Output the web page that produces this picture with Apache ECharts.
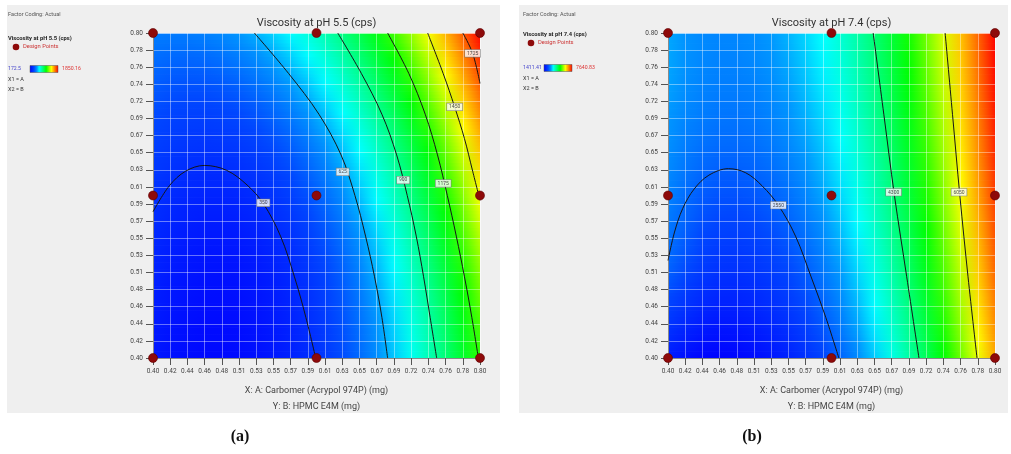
<!DOCTYPE html>
<html><head><meta charset="utf-8">
<script src="https://cdn.jsdelivr.net/npm/echarts@6/dist/echarts.min.js"></script>
<style>html,body{margin:0;padding:0;background:#fff}#c{width:1011px;height:454px}</style>
</head><body><div id="c"></div><script>
// ---------- data ----------
const xTickLabels = ['0.40','0.42','0.44','0.46','0.48','0.51','0.53','0.55','0.57','0.59','0.61','0.63','0.65','0.67','0.69','0.72','0.74','0.76','0.78','0.80'];
const yTickLabels = ['0.40','0.42','0.44','0.46','0.48','0.51','0.53','0.55','0.57','0.59','0.61','0.63','0.65','0.67','0.69','0.72','0.74','0.76','0.78','0.80'];
const titles = ['Viscosity at pH 5.5 (cps)', 'Viscosity at pH 7.4 (cps)'];
const rangeA = [172.5, 1850.16];
const rangeB = [1411.41, 7640.83];
const rangeTextA = ['172.5', '1850.16'];
const rangeTextB = ['1411.41', '7640.83'];
const designPoints = [[0.4,0.8],[0.6,0.8],[0.8,0.8],[0.4,0.6],[0.6,0.6],[0.8,0.6],[0.4,0.4],[0.6,0.4],[0.8,0.4]];

// response values at grid nodes, rows from Y=0.40 (bottom) to Y=0.80 (top), columns X=0.40..0.80
const gridA = [
[253,229,213,205,205,214,230,255,288,329,378,435,501,574,656,746,844,950,1065,1187],
[259,233,216,207,207,215,231,256,289,331,380,439,505,580,664,756,856,965,1082,1207],
[265,239,221,211,210,218,234,259,293,335,385,445,513,589,674,768,870,981,1101,1229],
[273,246,227,217,216,223,239,265,299,341,393,453,522,600,687,782,886,1000,1121,1252],
[282,254,235,224,223,231,247,273,307,350,403,464,534,614,702,799,905,1020,1144,1277],
[292,263,244,234,232,240,257,283,318,362,415,478,549,630,719,818,926,1043,1168,1304],
[303,274,255,245,244,252,269,296,331,376,431,494,566,648,739,839,949,1067,1195,1332],
[315,287,267,257,257,265,283,311,347,393,448,512,586,669,761,863,973,1094,1223,1362],
[328,300,281,272,272,281,300,328,365,412,468,533,608,692,786,889,1001,1122,1253,1393],
[343,315,297,288,289,299,319,348,386,434,491,557,633,718,813,917,1030,1153,1285,1427],
[358,331,314,306,308,319,340,370,409,458,516,583,660,746,842,947,1062,1186,1319,1462],
[374,349,333,326,329,341,363,394,434,484,543,612,690,777,874,980,1095,1220,1355,1498],
[391,368,353,348,352,366,389,421,462,513,574,643,722,810,908,1015,1131,1257,1392,1536],
[410,388,375,371,377,392,416,450,493,545,606,677,757,846,945,1052,1169,1296,1431,1576],
[429,409,398,396,404,420,446,481,525,579,641,713,794,884,983,1092,1210,1337,1472,1618],
[449,432,423,423,433,451,478,515,561,615,679,752,834,925,1025,1134,1252,1379,1515,1661],
[471,456,449,452,463,483,513,551,598,654,719,793,876,968,1068,1178,1297,1424,1560,1706],
[494,481,477,482,496,518,549,589,638,696,762,837,921,1013,1114,1224,1343,1471,1607,1752],
[517,508,507,514,530,555,588,630,681,740,807,883,968,1061,1163,1273,1392,1520,1656,1800],
[542,536,538,548,567,594,629,673,725,786,855,932,1018,1111,1214,1324,1443,1570,1706,1850]
];
const gridB = [
[1780,1610,1480,1450,1488,1577,1704,1866,2065,2300,2572,2881,3225,3606,4024,4478,4969,5496,6059,6659],
[1950,1770,1630,1585,1608,1691,1810,1967,2161,2392,2660,2966,3309,3688,4106,4560,5051,5580,6145,6748],
[2120,1920,1770,1705,1724,1799,1913,2064,2253,2480,2745,3048,3388,3766,4182,4635,5127,5657,6224,6829],
[2280,2070,1905,1830,1835,1904,2011,2157,2342,2564,2825,3125,3463,3839,4254,4707,5199,5728,6297,6903],
[2420,2200,2030,1950,1942,2005,2108,2249,2429,2648,2906,3203,3539,3913,4327,4779,5271,5802,6370,6979],
[2551,2350,2150,2060,2043,2101,2198,2335,2511,2726,2981,3275,3608,3980,4393,4844,5335,5865,6434,7043],
[2640,2440,2245,2160,2141,2193,2286,2418,2590,2802,3053,3344,3675,4046,4456,4906,5396,5925,6494,7104],
[2700,2510,2330,2250,2232,2280,2368,2497,2665,2874,3122,3410,3739,4108,4516,4965,5454,5983,6551,7160],
[2750,2570,2405,2330,2317,2361,2446,2571,2736,2942,3187,3474,3800,4167,4574,5021,5509,6037,6604,7213],
[2790,2620,2470,2405,2397,2439,2521,2643,2806,3009,3253,3538,3863,4228,4634,5080,5567,6094,6661,7270],
[2830,2670,2535,2475,2471,2510,2590,2709,2870,3071,3313,3596,3919,4282,4687,5132,5617,6144,6710,7317],
[2870,2715,2600,2545,2538,2575,2653,2771,2930,3130,3370,3651,3973,4335,4738,5181,5666,6190,6756,7362],
[2905,2755,2650,2605,2600,2636,2713,2830,2989,3187,3427,3707,4028,4389,4791,5233,5717,6241,6805,7410],
[2945,2791,2705,2660,2655,2691,2767,2884,3041,3239,3478,3757,4077,4437,4838,5279,5761,6284,6846,7450],
[2963,2838,2752,2707,2703,2739,2815,2932,3089,3287,3525,3804,4123,4482,4882,5322,5803,6324,6885,7487],
[3000,2876,2792,2749,2745,2782,2860,2977,3135,3332,3570,3849,4167,4526,4925,5363,5843,6363,6922,7522],
[3025,2904,2823,2782,2782,2820,2899,3018,3177,3376,3614,3893,4212,4570,4968,5406,5885,6403,6961,7559],
[3042,2925,2847,2809,2811,2852,2933,3053,3213,3413,3652,3931,4250,4608,5005,5442,5919,6436,6991,7587],
[3049,2936,2863,2830,2835,2880,2963,3086,3248,3450,3690,3970,4289,4647,5044,5480,5956,6471,7025,7618],
[3047,2940,2872,2843,2853,2901,2988,3114,3278,3481,3723,4003,4323,4680,5077,5512,5986,6499,7051,7641]
];

// contour lines: [x, y]
const contoursA = [
 [[0.400,0.580],[0.420,0.612],[0.440,0.630],[0.463,0.637],[0.490,0.631],[0.515,0.613],[0.535,0.590],[0.556,0.550],[0.573,0.500],[0.587,0.450],[0.599,0.400]],
 [[0.524,0.80],[0.566,0.75],[0.603,0.70],[0.630,0.65],[0.647,0.60],[0.660,0.55],[0.671,0.50],[0.680,0.45],[0.687,0.40]],
 [[0.626,0.80],[0.655,0.75],[0.680,0.70],[0.698,0.65],[0.711,0.60],[0.722,0.55],[0.731,0.50],[0.739,0.45],[0.747,0.40]],
 [[0.687,0.80],[0.713,0.75],[0.733,0.70],[0.748,0.65],[0.760,0.60],[0.771,0.55],[0.781,0.50],[0.790,0.45],[0.798,0.40]],
 [[0.736,0.80],[0.755,0.75],[0.769,0.709],[0.781,0.67],[0.791,0.63],[0.800,0.594]],
 [[0.779,0.80],[0.791,0.775],[0.800,0.738]]
];
const contourLabelsA = [[0.535,0.591,'350'],[0.632,0.629,'625'],[0.706,0.619,'900'],[0.755,0.615,'1175'],[0.769,0.709,'1450'],[0.791,0.775,'1725']];
const contoursB = [
 [[0.400,0.520],[0.408,0.555],[0.418,0.584],[0.432,0.608],[0.450,0.625],[0.474,0.633],[0.495,0.628],[0.515,0.612],[0.535,0.588],[0.556,0.550],[0.575,0.500],[0.593,0.450],[0.609,0.400]],
 [[0.651,0.80],[0.664,0.70],[0.677,0.60],[0.692,0.50],[0.707,0.40]],
 [[0.739,0.80],[0.748,0.70],[0.757,0.60],[0.767,0.50],[0.778,0.40]]
];
const contourLabelsB = [[0.535,0.588,'2550'],[0.676,0.604,'4300'],[0.756,0.604,'6050']];

// ---------- style ----------
const STOPS = [[0,[0,0,255]],[0.15,[0,70,255]],[0.25,[0,150,255]],[0.33,[0,255,255]],[0.575,[0,255,0]],[0.76,[255,255,0]],[1,[255,0,0]]];
function colorOf(v, range) {
  let t = (v - range[0]) / (range[1] - range[0]);
  t = Math.max(0, Math.min(1, t));
  for (let i = 1; i < STOPS.length; i++) {
    if (t <= STOPS[i][0]) {
      const a = STOPS[i-1], b = STOPS[i];
      const f = (t - a[0]) / (b[0] - a[0]);
      const c = a[1].map((ch, n) => Math.round(ch + (b[1][n] - ch) * f));
      return 'rgb(' + c.join(',') + ')';
    }
  }
  return 'rgb(255,0,0)';
}
const FONT = 'Roboto';
const XMIN = 0.4, XMAX = 0.8;
const STEP = (XMAX - XMIN) / (xTickLabels.length - 1);
const grids = [{left:153, top:33, width:327, height:325}, {left:668, top:33, width:327, height:325}];

function axisCommon(labels) {
  return {
    type:'value', min:XMIN, max:XMAX, interval:STEP, z:3,
    axisLine:{show:true, lineStyle:{color:'#8a8a8a', width:1}},
    axisTick:{show:true, length:7, lineStyle:{color:'#555'}},
    axisLabel:{fontSize:6.5, color:'#444', margin:10, fontFamily:FONT,
      formatter: v => labels[Math.round((v - XMIN) / STEP)]},
    splitLine:{show:true, lineStyle:{color:'rgba(255,255,255,0.4)', width:1}}
  };
}

function shadeSeries(gi, vals, range) {
  const n = vals.length;
  const node = i => XMIN + i * (XMAX - XMIN) / (n - 1);
  const data = [];
  for (let j = 0; j < n - 1; j++) for (let k = 0; k < n - 1; k++) {
    data.push([node(k), node(k+1), node(j), node(j+1), vals[j][k], vals[j][k+1], vals[j+1][k], vals[j+1][k+1]]);
  }
  return {
    type:'custom', xAxisIndex:gi, yAxisIndex:gi, data, encode:{x:[0,1], y:[2,3]},
    clip:true, z:1, silent:true, animation:false,
    renderItem(params, api) {
      const p0 = api.coord([api.value(0), api.value(3)]);
      const p1 = api.coord([api.value(1), api.value(2)]);
      const S = 5, h = (p1[1] - p0[1]) / S, w = p1[0] - p0[0];
      const children = [];
      for (let s = 0; s < S; s++) {
        const f = 1 - (s + 0.5) / S;
        const vl = api.value(4) + (api.value(6) - api.value(4)) * f;
        const vr = api.value(5) + (api.value(7) - api.value(5)) * f;
        children.push({type:'rect', shape:{x:p0[0], y:p0[1] + s*h, width:w + 0.7, height:h + 0.7},
          style:{fill: new echarts.graphic.LinearGradient(0,0,1,0,[{offset:0,color:colorOf(vl,range)},{offset:1,color:colorOf(vr,range)}])}});
      }
      return {type:'group', children};
    }
  };
}
function contourSeries(gi, lines) {
  return lines.map(pts => ({
    type:'line', xAxisIndex:gi, yAxisIndex:gi, data:pts, smooth:0.35, symbol:'none', clip:true,
    lineStyle:{color:'#161616', width:1}, z:4, silent:true, animation:false
  }));
}
function labelSeries(gi, labs) {
  return {
    type:'scatter', xAxisIndex:gi, yAxisIndex:gi, data:labs, symbolSize:0.1, z:5, clip:false, silent:true, animation:false,
    label:{show:true, position:'inside', formatter:p => p.value[2], fontSize:5, fontFamily:FONT, color:'#222',
      backgroundColor:'#fff', borderColor:'#777', borderWidth:0.6, padding:[1,2]}
  };
}
function designSeries(gi) {
  return {
    type:'scatter', xAxisIndex:gi, yAxisIndex:gi, data:designPoints, symbolSize:9, z:6, clip:false, silent:true, animation:false,
    itemStyle:{color:'#8e0a0a', borderColor:'#5c0000', borderWidth:0.6, opacity:1}
  };
}

function panelGraphics(off, title, rangeText, pos) {
  const cx = grids[off].left + grids[off].width / 2;
  const L = pos.left;
  const barStops = STOPS.map(s => ({offset:s[0], color:'rgb(' + s[1].join(',') + ')'}));
  return [
    {type:'rect', shape:{x:pos.bgX, y:5, width:pos.bgW, height:408}, style:{fill:'#efefef'}, z:-10},
    {type:'text', x:cx, y:23, style:{text:title, fontSize:11, fontFamily:FONT, fill:'#333', align:'center', verticalAlign:'middle'}},
    {type:'text', x:cx, y:391, style:{text:'X: A: Carbomer (Acrypol 974P) (mg)', fontSize:9, fontFamily:FONT, fill:'#444', align:'center', verticalAlign:'middle'}},
    {type:'text', x:cx, y:407, style:{text:'Y: B: HPMC E4M (mg)', fontSize:9, fontFamily:FONT, fill:'#444', align:'center', verticalAlign:'middle'}},
    {type:'text', x:L, y:15, style:{text:'Factor Coding: Actual', fontSize:5.5, fontFamily:FONT, fill:'#555', verticalAlign:'middle'}},
    {type:'text', x:L, y:pos.titleY, style:{text:title, fontSize:5.8, fontWeight:'bold', fontFamily:FONT, fill:'#222', verticalAlign:'middle'}},
    {type:'circle', shape:{cx:L + 8, cy:pos.dpY, r:3.3}, style:{fill:'#8e0a0a'}},
    {type:'text', x:L + 15, y:pos.dpY, style:{text:'Design Points', fontSize:5.8, fontFamily:FONT, fill:'#cc3333', verticalAlign:'middle'}},
    {type:'text', x:L, y:pos.barY, style:{text:rangeText[0], fontSize:5.2, fontFamily:FONT, fill:'#4444cc', verticalAlign:'middle'}},
    {type:'rect', shape:{x:pos.barX, y:pos.barY - 3.5, width:28, height:7},
      style:{fill:new echarts.graphic.LinearGradient(0,0,1,0,barStops), stroke:'#555', lineWidth:0.5}},
    {type:'text', x:pos.barX + 32, y:pos.barY, style:{text:rangeText[1], fontSize:5.2, fontFamily:FONT, fill:'#dd3333', verticalAlign:'middle'}},
    {type:'text', x:L, y:pos.x1Y, style:{text:'X1 = A', fontSize:5.5, fontFamily:FONT, fill:'#333', verticalAlign:'middle'}},
    {type:'text', x:L, y:pos.x1Y + 10, style:{text:'X2 = B', fontSize:5.5, fontFamily:FONT, fill:'#333', verticalAlign:'middle'}}
  ];
}

const chart = echarts.init(document.getElementById('c'), null, {renderer:'canvas'});
const graphics = [].concat(
  panelGraphics(0, titles[0], rangeTextA, {bgX:7, bgW:493, left:8, titleY:39, dpY:47, barY:69, barX:30, x1Y:80}),
  panelGraphics(1, titles[1], rangeTextB, {bgX:519, bgW:489, left:523, titleY:35, dpY:43, barY:68, barX:544, x1Y:79}),
  [
    {type:'text', x:240, y:437, style:{text:'(a)', fontSize:16, fontWeight:'bold', fontFamily:'Liberation Serif', fill:'#111', align:'center', verticalAlign:'middle'}},
    {type:'text', x:752, y:437, style:{text:'(b)', fontSize:16, fontWeight:'bold', fontFamily:'Liberation Serif', fill:'#111', align:'center', verticalAlign:'middle'}}
  ]
);
chart.setOption({
  animation:false,
  backgroundColor:'#ffffff',
  grid: grids,
  xAxis: [Object.assign(axisCommon(xTickLabels), {gridIndex:0}), Object.assign(axisCommon(xTickLabels), {gridIndex:1})],
  yAxis: [Object.assign(axisCommon(yTickLabels), {gridIndex:0}), Object.assign(axisCommon(yTickLabels), {gridIndex:1})],
  graphic: graphics,
  series: [].concat(
    [shadeSeries(0, gridA, rangeA)], contourSeries(0, contoursA), [labelSeries(0, contourLabelsA), designSeries(0)],
    [shadeSeries(1, gridB, rangeB)], contourSeries(1, contoursB), [labelSeries(1, contourLabelsB), designSeries(1)]
  )
});
</script></body></html>
